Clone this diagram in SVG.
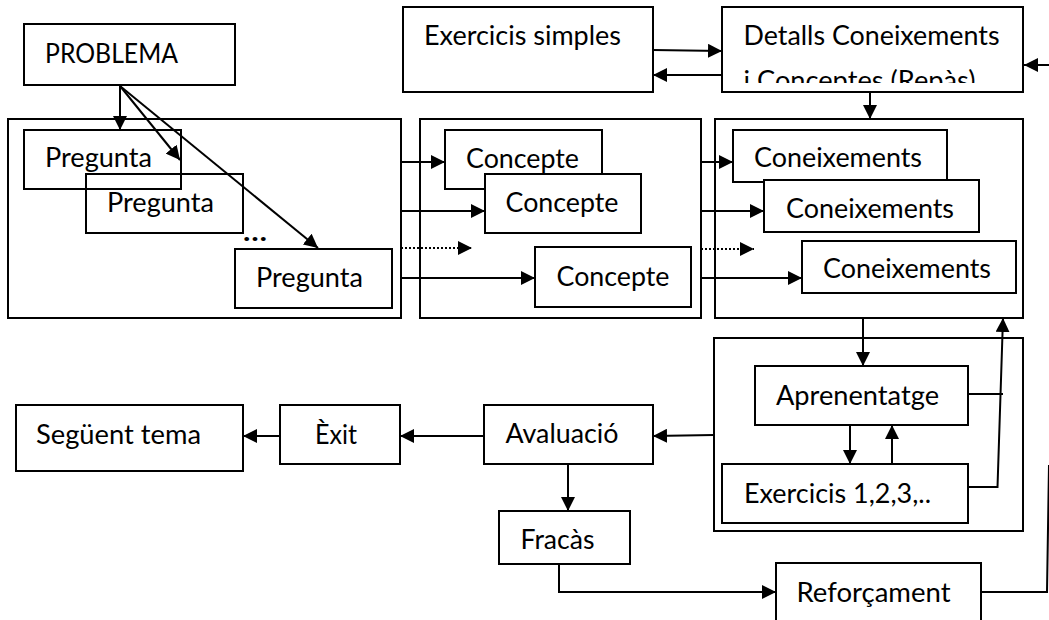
<svg xmlns="http://www.w3.org/2000/svg" width="1049" height="620" viewBox="0 0 1049 620">
<style>
.box{fill:#fff;stroke:#000;stroke-width:2}
.frame{fill:none;stroke:#000;stroke-width:2}
.t{font-family:"Lato","Liberation Sans",sans-serif;font-size:26px;fill:#000}
.c{fill:none;stroke:#000;stroke-width:2}
.a{marker-end:url(#ah)}
.dot{stroke-dasharray:2 2}
</style>
<defs>
<marker id="ah" markerUnits="userSpaceOnUse" markerWidth="14" markerHeight="14" refX="14" refY="7" orient="auto">
<path d="M0,0 L14,7 L0,14 z" fill="#000"/>
</marker>
<clipPath id="detClip"><rect x="722" y="7" width="301" height="76"/></clipPath>
</defs>
<rect width="1049" height="620" fill="#fff"/>

<g id="frames">
<rect id="frame-preguntes" class="frame" x="8" y="119" width="393" height="199"/>
<rect id="frame-conceptes" class="frame" x="420" y="119" width="281" height="199"/>
<rect id="frame-coneixements" class="frame" x="715" y="119" width="308" height="199"/>
<rect id="frame-aprenentatge" class="frame" x="714" y="338" width="309" height="193"/>
</g>

<g id="connectors">
<line class="c a" x1="120" y1="86" x2="120" y2="130"/>
<line class="c a" x1="120" y1="86" x2="180" y2="160"/>
<line class="c a" x1="120" y1="86" x2="318" y2="248"/>
<line class="c a" x1="401" y1="162" x2="445" y2="162"/>
<line class="c a" x1="401" y1="211" x2="485" y2="211"/>
<line class="c a dot" x1="401" y1="248" x2="472" y2="248"/>
<line class="c a" x1="401" y1="278" x2="535" y2="278"/>
<line class="c a" x1="701" y1="162" x2="733" y2="162"/>
<line class="c a" x1="701" y1="211" x2="764" y2="211"/>
<line class="c a dot" x1="701" y1="249" x2="754" y2="249"/>
<line class="c a" x1="701" y1="278" x2="802" y2="278"/>
<line class="c a" x1="653" y1="50" x2="722" y2="51"/>
<line class="c a" x1="722" y1="75" x2="653" y2="75"/>
<line class="c a" x1="1049" y1="65" x2="1024" y2="65"/>
<line class="c a" x1="870" y1="92" x2="870" y2="119"/>
<line class="c a" x1="863" y1="318" x2="863" y2="366"/>
<line class="c a" x1="850" y1="425" x2="850" y2="464"/>
<line class="c a" x1="892" y1="464" x2="892" y2="425"/>
<line class="c" x1="968" y1="394" x2="1003" y2="394"/>
<polyline class="c a" points="968,487 997.5,487 1003,318"/>
<line class="c a" x1="714" y1="435" x2="653" y2="436"/>
<line class="c a" x1="484" y1="436" x2="400" y2="436"/>
<line class="c a" x1="280" y1="436" x2="243" y2="436"/>
<line class="c a" x1="568" y1="464" x2="568" y2="511"/>
<polyline class="c a" points="559,564 559,592 776,592"/>
<polyline class="c" points="981,592 1047,592 1049,465"/>
</g>

<g id="problema"><rect class="box" x="24" y="24" width="211" height="61"/><text class="t" x="45" y="63" textLength="133" lengthAdjust="spacingAndGlyphs">PROBLEMA</text></g>
<g id="pregunta1"><rect class="frame" x="24" y="130" width="157" height="59"/><text class="t" x="45" y="167" textLength="107" lengthAdjust="spacingAndGlyphs">Pregunta</text></g>
<g id="pregunta2"><rect class="frame" x="86" y="174" width="157" height="59"/><text class="t" x="107" y="212" textLength="107" lengthAdjust="spacingAndGlyphs">Pregunta</text></g>
<g id="ellipsis"><text class="t" x="243" y="241" font-weight="bold" textLength="24" lengthAdjust="spacingAndGlyphs">…</text></g>
<g id="pregunta3"><rect class="box" x="235" y="249" width="157" height="59"/><text class="t" x="256" y="287" textLength="107" lengthAdjust="spacingAndGlyphs">Pregunta</text></g>

<g id="concepte1"><rect class="frame" x="445" y="130" width="157" height="59"/><text class="t" x="466" y="168" textLength="113" lengthAdjust="spacingAndGlyphs">Concepte</text></g>
<g id="concepte2"><rect class="box" x="485" y="174" width="156" height="59"/><text class="t" x="505.5" y="212" textLength="113" lengthAdjust="spacingAndGlyphs">Concepte</text></g>
<g id="concepte3"><rect class="box" x="535" y="247" width="156" height="60"/><text class="t" x="556.5" y="286" textLength="113" lengthAdjust="spacingAndGlyphs">Concepte</text></g>

<g id="coneixements1"><rect class="box" x="733" y="130" width="214" height="52"/><text class="t" x="754" y="167" textLength="168" lengthAdjust="spacingAndGlyphs">Coneixements</text></g>
<g id="coneixements2"><rect class="box" x="764" y="180" width="215" height="52"/><text class="t" x="786" y="218" textLength="168" lengthAdjust="spacingAndGlyphs">Coneixements</text></g>
<g id="coneixements3"><rect class="box" x="802" y="241" width="214" height="52"/><text class="t" x="823" y="278" textLength="168" lengthAdjust="spacingAndGlyphs">Coneixements</text></g>

<g id="exercicis-simples"><rect class="box" x="403" y="7" width="250" height="85"/><text class="t" x="424" y="45" textLength="197" lengthAdjust="spacingAndGlyphs">Exercicis simples</text></g>
<g id="detalls"><rect class="box" x="722" y="7" width="301" height="85"/>
<text class="t" x="743.5" y="45" textLength="256" lengthAdjust="spacingAndGlyphs">Detalls Coneixements</text>
<text class="t" x="743.5" y="90" textLength="232" lengthAdjust="spacingAndGlyphs" clip-path="url(#detClip)">i Conceptes (Repàs)</text></g>

<g id="aprenentatge"><rect class="box" x="755" y="366" width="213" height="59"/><text class="t" x="776" y="405" textLength="163" lengthAdjust="spacingAndGlyphs">Aprenentatge</text></g>
<g id="exercicis123"><rect class="box" x="722" y="464" width="246" height="59"/><text class="t" x="744" y="503" textLength="187" lengthAdjust="spacingAndGlyphs">Exercicis 1,2,3,..</text></g>
<g id="avaluacio"><rect class="box" x="484" y="405" width="169" height="59"/><text class="t" x="505.5" y="443" textLength="113" lengthAdjust="spacingAndGlyphs">Avaluació</text></g>
<g id="exit"><rect class="box" x="280" y="405" width="120" height="59"/><text class="t" x="315" y="444" textLength="42" lengthAdjust="spacingAndGlyphs">Èxit</text></g>
<g id="seguent-tema"><rect class="box" x="16" y="405" width="227" height="66"/><text class="t" x="36" y="444" textLength="165" lengthAdjust="spacingAndGlyphs">Següent tema</text></g>
<g id="fracas"><rect class="box" x="499" y="511" width="131" height="53"/><text class="t" x="520.5" y="549" textLength="74" lengthAdjust="spacingAndGlyphs">Fracàs</text></g>
<g id="reforcament"><rect class="box" x="776" y="563" width="205" height="70"/><text class="t" x="796.5" y="602" textLength="154" lengthAdjust="spacingAndGlyphs">Reforçament</text></g>
</svg>
